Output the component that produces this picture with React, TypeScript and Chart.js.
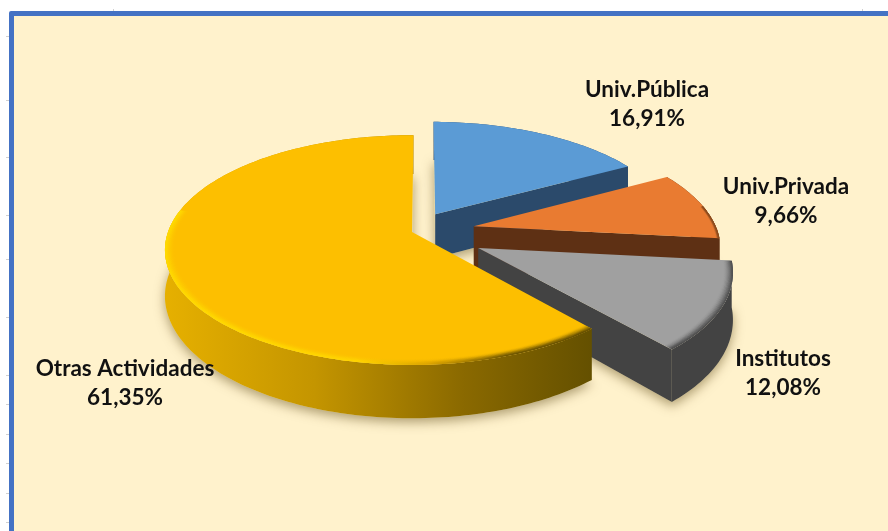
import React, { useEffect, useRef } from "react";
import { Chart, registerables } from "chart.js";

Chart.register(...registerables);

const categories = ["Univ.Pública", "Univ.Privada", "Institutos", "Otras Actividades"];
const shares = [16.91, 9.66, 12.08, 61.35];
const topColors = ["#5B9BD5", "#E97B31", "#A0A0A0", "#FDBF00"];
const sideStops = [
  [[0, "#2B4A6B"], [1, "#2B4A6B"]],
  [[0, "#5E3014"], [1, "#5E3014"]],
  [[0, "#434343"], [1, "#434343"]],
  [[0, "#E6B000"], [0.35, "#C49500"], [0.7, "#8A6900"], [1, "#645000"]],
];
const rimStops = [
  [[0, "#3F6F9E"], [1, "#3F6F9E"]],
  [[0, "#8A4A1C"], [1, "#8A4A1C"]],
  [[0, "#4A4A4A"], [1, "#4A4A4A"]],
  [[0, "#FFDC00"], [0.45, "#FFD400"], [0.62, "#D9A200"], [0.8, "#6B5300"], [1, "#5F4A00"]],
];
const explode = [0.19, 0.26, 0.3, 0];
const rimWidth = [0, 0.012, 0.034, 0.036];
const labelAnchors = [
  [647, 90],
  [786, 187],
  [783, 359],
  [125, 369],
];
const rulerLeft = [36, 100, 157, 215, 259, 317, 375, 404, 434, 463, 493, 522];
const rulerTop = [113, 862];

const view = { sx: 244 / 232, sy: 112 / 232, persp: 0.157, depth: 45, rimFrom: -0.2 };

const pie3d = {
  id: "pie3d",
  beforeDatasetDraw(chart: any) {
    const ctx = chart.ctx;
    const arcs = chart.getDatasetMeta(0).data;

    const project = (el: any, u: number, v: number, drop: number) => {
      const w = 1 - view.persp * v;
      return [
        el.x + (el.outerRadius * view.sx * u) / w,
        el.y + (el.outerRadius * view.sy * v) / w + (drop * view.depth) / w,
      ];
    };
    const ringPoints = (el: any, i: number, radius: number, frontOnly = false) => {
      const mid = (el.startAngle + el.endAngle) / 2;
      const ox = explode[i] * Math.cos(mid);
      const oy = explode[i] * Math.sin(mid);
      const n = Math.max(8, Math.ceil((el.endAngle - el.startAngle) * 50));
      const out: number[][] = [];
      for (let k = 0; k <= n; k++) {
        const a = el.startAngle + ((el.endAngle - el.startAngle) * k) / n;
        if (frontOnly && Math.sin(a) < view.rimFrom) continue;
        out.push([ox + radius * Math.cos(a), oy + radius * Math.sin(a)]);
      }
      return { ring: out, apex: [ox, oy] };
    };
    const trace = (pts: number[][]) => {
      ctx.beginPath();
      pts.forEach((p, j) => (j ? ctx.lineTo(p[0], p[1]) : ctx.moveTo(p[0], p[1])));
      ctx.closePath();
    };
    const gradient = (stops: any[], x0: number, x1: number) => {
      const g = ctx.createLinearGradient(x0, 0, x1, 0);
      stops.forEach(([o, c]: any) => g.addColorStop(o, c));
      return g;
    };

    // soft cast shadow under every slice
    ctx.save();
    ctx.shadowColor = "rgba(95,75,25,0.5)";
    ctx.shadowBlur = 11;
    ctx.shadowOffsetY = 4;
    ctx.fillStyle = "#E8D9A8";
    arcs.forEach((el: any, i: number) => {
      const { ring, apex } = ringPoints(el, i, 1);
      trace([apex, ...ring].map((p) => project(el, p[0], p[1], 1)));
      ctx.fill();
    });
    ctx.restore();

    arcs.forEach((el: any, i: number) => {
      const { ring, apex } = ringPoints(el, i, 1);
      const top = [apex, ...ring].map((p) => project(el, p[0], p[1], 0));
      const bottom = [apex, ...ring].map((p) => project(el, p[0], p[1], 1));
      const xs = [...top, ...bottom].map((p) => p[0]);
      const xMin = Math.min(...xs);
      const xMax = Math.max(...xs);

      const sideFill = gradient(sideStops[i], xMin, xMax);
      const stops = sideStops[i];
      const wall = (pts: number[][], fill: any) => {
        ctx.fillStyle = fill;
        trace(pts);
        ctx.fill();
      };
      // radial faces, only when they look toward the viewer, then the curved wall
      const last = top.length - 1;
      if (Math.sin(el.startAngle - Math.PI / 2) > 0.05) {
        wall([top[0], top[1], bottom[1], bottom[0]], stops[0][1]);
      }
      if (Math.sin(el.endAngle + Math.PI / 2) > 0.05) {
        wall([top[0], top[last], bottom[last], bottom[0]], stops[stops.length - 1][1]);
      }
      wall([...top.slice(1), ...bottom.slice(1).reverse()], sideFill);

      // top face
      trace(top);
      ctx.fillStyle = topColors[i];
      ctx.fill();

      // bevel along the front rim, fading inward
      if (rimWidth[i] > 0) {
        ctx.save();
        trace(top);
        ctx.clip();
        ctx.strokeStyle = gradient(rimStops[i], xMin, xMax);
        ctx.lineWidth = 1.6;
        ctx.lineJoin = "round";
        const layers = 8;
        for (let l = layers; l >= 0; l--) {
          const r = 1 - (rimWidth[i] * l) / layers;
          const pts = ringPoints(el, i, r, true).ring.map((p) => project(el, p[0], p[1], 0));
          ctx.globalAlpha = Math.pow(1 - l / (layers + 1), 2);
          ctx.beginPath();
          pts.forEach((p, j) => (j ? ctx.lineTo(p[0], p[1]) : ctx.moveTo(p[0], p[1])));
          ctx.stroke();
        }
        ctx.restore();
      }
    });

    // data labels
    ctx.save();
    ctx.fillStyle = "#111111";
    ctx.font = "bold 22.5px Lato";
    ctx.textAlign = "center";
    ctx.textBaseline = "middle";
    categories.forEach((name, i) => {
      const [x, y] = labelAnchors[i];
      ctx.fillText(name, x, y);
      ctx.fillText(shares[i].toFixed(2).replace(".", ",") + "%", x, y + 29);
    });
    ctx.restore();
    return false;
  },
};

export default function App() {
  const ref = useRef<HTMLCanvasElement>(null);
  useEffect(() => {
    document.body.style.margin = "0";
    const chart = new Chart(ref.current as HTMLCanvasElement, {
      type: "pie",
      data: {
        labels: categories,
        datasets: [{ data: shares, backgroundColor: topColors, borderWidth: 0 }],
      },
      options: {
        animation: false,
        responsive: false,
        events: [],
        rotation: 0.4,
        layout: { padding: { left: 0, top: 0, right: 64, bottom: 67 } },
        plugins: { legend: { display: false }, tooltip: { enabled: false } },
      },
      plugins: [pie3d],
    } as any);
    return () => chart.destroy();
  }, []);
  return (
    <div style={{ position: "relative", width: 888, height: 531, overflow: "hidden", background: "#FFFFFF" }}>
      {rulerLeft.map((y) => (
        <div key={y} style={{ position: "absolute", left: 6, top: y, width: 3, height: 1, background: "#D0D0D0" }} />
      ))}
      {rulerTop.map((x) => (
        <div key={x} style={{ position: "absolute", left: x, top: 9, width: 1, height: 2, background: "#D0D0D0" }} />
      ))}
      <div
        style={{
          position: "absolute",
          left: 9,
          top: 11,
          width: 900,
          height: 540,
          boxSizing: "border-box",
          background: "#FFF2CC",
          border: "5px solid #4472C4",
          borderRadius: 2,
        }}
      />
      <canvas ref={ref} width={888} height={531} style={{ position: "absolute", left: 0, top: 0 }} />
    </div>
  );
}
